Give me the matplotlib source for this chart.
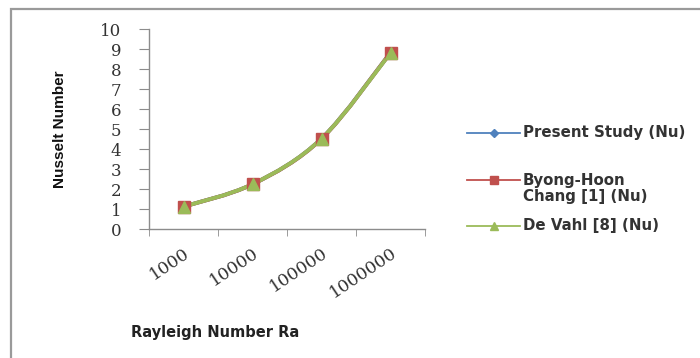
import matplotlib
matplotlib.use("Agg")
import matplotlib.pyplot as plt
from matplotlib.path import Path
from matplotlib.patches import PathPatch, Rectangle
from matplotlib.lines import Line2D
import numpy as np

# Data
categories = ["1000", "10000", "100000", "1000000"]
present_study = [1.12, 2.24, 4.52, 8.82]
chang = [1.117, 2.238, 4.509, 8.817]
de_vahl = [1.118, 2.243, 4.519, 8.800]
y_ticks = list(range(0, 11))

series_names = ["Present Study (Nu)", "Byong-Hoon", "De Vahl [8] (Nu)"]
series_name_extra = ["", "Chang [1] (Nu)", ""]
series_values = [present_study, chang, de_vahl]
series_colors = ["#4F81BD", "#C0504D", "#9BBB59"]
series_markers = ["D", "s", "^"]
marker_sizes = [6, 9, 8]


def smooth_path(xs, ys):
    """Bezier curve through the points, like a spreadsheet 'smoothed line'."""
    pts = np.column_stack([xs, ys]).astype(float)
    ext = np.vstack([pts[0], pts, pts[-1]])
    verts = [tuple(pts[0])]
    codes = [Path.MOVETO]
    for i in range(len(pts) - 1):
        p0, p1, p2, p3 = ext[i], ext[i + 1], ext[i + 2], ext[i + 3]
        c1 = p1 + (p2 - p0) / 6.0
        c2 = p2 - (p3 - p1) / 6.0
        verts += [tuple(c1), tuple(c2), tuple(p2)]
        codes += [Path.CURVE4] * 3
    return Path(verts, codes)


W, H = 700, 358
fig = plt.figure(figsize=(W / 100, H / 100), dpi=100)
fig.patch.set_facecolor("white")

# chart frame
fig.add_artist(Rectangle((10.5 / W, -0.05), 1.0, 1.05 - 9.5 / H,
                         transform=fig.transFigure, fill=False,
                         edgecolor="#9a9a9a", linewidth=1.6))

ax = fig.add_axes([149 / W, 1 - 229 / H, (425 - 149) / W, 200 / H])
x = np.arange(len(categories))

for vals, col, mk, ms in zip(series_values, series_colors, series_markers, marker_sizes):
    ax.add_patch(PathPatch(smooth_path(x, vals), fill=False, edgecolor=col,
                           linewidth=2.8, zorder=2))
    ax.plot(x, vals, linestyle="none", marker=mk, markersize=ms, color=col,
            markeredgecolor=col, zorder=3)

ax.set_xlim(-0.5, len(categories) - 0.5)
ax.set_ylim(0, 10)
ax.set_yticks(y_ticks)
ax.set_xticks(x)
ax.set_xticklabels(categories, rotation=34, ha="right", va="top",
                   rotation_mode="anchor", fontsize=12.5, color="#333333",
                   family="DejaVu Serif")
ax.set_xticks(np.arange(-0.5, len(categories)), minor=True)
ax.tick_params(axis="x", which="major", length=0, pad=11)
ax.tick_params(axis="x", which="minor", length=5, color="#8c8c8c", direction="out")
ax.tick_params(axis="y", length=7, color="#8c8c8c", direction="out",
               labelsize=12, labelcolor="#333333", pad=13)
for lbl in ax.get_yticklabels():
    lbl.set_fontfamily("DejaVu Serif")

for side in ("top", "right"):
    ax.spines[side].set_visible(False)
for side in ("left", "bottom"):
    ax.spines[side].set_color("#8c8c8c")
    ax.spines[side].set_linewidth(1.0)
ax.set_facecolor("white")

fig.text(60 / W, 1 - 129 / H, "Nusselt Number", rotation=90, ha="center",
         va="center", fontsize=11, fontweight="bold",
         family="Liberation Sans", color="#111111")
fig.text(215 / W, 1 - 333 / H, "Rayleigh Number Ra", ha="center",
         va="center", fontsize=10.5, fontweight="bold", family="DejaVu Sans",
         color="#222222")

# legend
leg_rows = [133, 180, 226]
for name, extra, col, mk, ms, yrow in zip(series_names, series_name_extra,
                                          series_colors, series_markers,
                                          marker_sizes, leg_rows):
    yf = 1 - yrow / H
    fig.add_artist(Line2D([467 / W, 520 / W], [yf, yf],
                          transform=fig.transFigure, color=col, linewidth=1.3))
    fig.add_artist(Line2D([494 / W], [yf], transform=fig.transFigure,
                          marker=mk, markersize=ms * 0.7, color=col,
                          linestyle="none"))
    fig.text(523 / W, yf, name, ha="left", va="center", fontsize=10.8,
             fontweight="bold", family="DejaVu Sans", color="#333333")
    if extra:
        fig.text(523 / W, 1 - (yrow + 17) / H, extra, ha="left", va="center",
                 fontsize=10.8, fontweight="bold", family="DejaVu Sans",
                 color="#333333")

fig.savefig("out.png", dpi=100, facecolor="white")
